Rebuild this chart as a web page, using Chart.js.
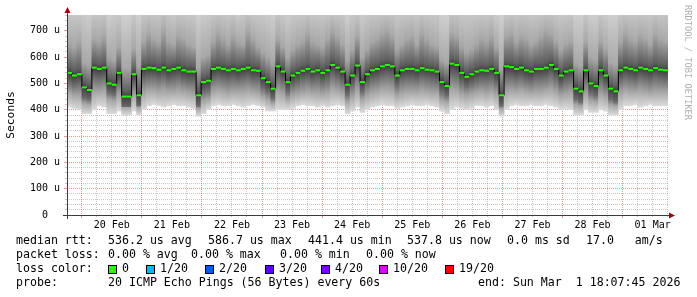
<!DOCTYPE html>
<html>
<head>
<meta charset="utf-8">
<script src="https://cdn.jsdelivr.net/npm/chart.js@4.4.1/dist/chart.umd.min.js"></script>
<style>
  html, body { margin: 0; padding: 0; background: #fff; }
  canvas { display: block; }
</style>
</head>
<body>
<canvas id="smoke" width="697" height="297"></canvas>
<script>
// time axis in hours since 19 Feb 00:00
const startHour = 18.129;   // 19 Feb 18:07:45
const endHour = 258.129;    // 01 Mar 18:07:45
const stepHours = 2;        // one sample every 2 hours

const dayLabels = ["20 Feb", "21 Feb", "22 Feb", "23 Feb", "24 Feb", "25 Feb", "26 Feb", "27 Feb", "28 Feb", "01 Mar"];
const rttTicks = [0, 100, 200, 300, 400, 500, 600, 700];

// median rtt (us) per sample
const medianRtt = [
  540, 530, 535, 485, 475, 560, 555, 560, 500, 495,
  540, 450, 450, 535, 455, 555, 560, 558, 552, 560,
  550, 555, 560, 550, 545, 545, 455, 505, 510, 555,
  560, 555, 550, 555, 550, 555, 560, 550, 548, 520,
  505, 480, 565, 545, 505, 530, 540, 548, 555, 545,
  550, 540, 550, 570, 560, 545, 495, 530, 568, 505,
  535, 550, 555, 565, 570, 565, 530, 550, 555, 555,
  550, 558, 552, 550, 545, 505, 490, 575, 570, 540,
  525, 535, 545, 550, 548, 555, 540, 455, 565, 562,
  555, 560, 550, 545, 555, 555, 560, 570, 555, 530,
  545, 550, 480, 470, 550, 500, 490, 550, 530, 480,
  470, 550, 560, 555, 550, 560, 555, 550, 558, 552,
  550
];

// smoke: spread of the 20 pings per sample (us)
const pingMin = [
  410, 405, 400, 385, 385, 400, 415, 410, 385, 385,
  395, 380, 380, 395, 380, 400, 415, 420, 415, 410,
  415, 420, 415, 415, 410, 405, 375, 385, 400, 415,
  420, 415, 415, 420, 415, 410, 415, 420, 415, 410,
  395, 395, 400, 400, 400, 405, 415, 420, 415, 415,
  410, 415, 410, 415, 420, 415, 385, 395, 410, 390,
  400, 410, 415, 420, 415, 415, 405, 410, 415, 420,
  415, 415, 420, 415, 410, 395, 385, 400, 410, 405,
  400, 405, 415, 415, 410, 415, 400, 375, 400, 415,
  420, 415, 415, 420, 415, 415, 420, 415, 410, 400,
  405, 400, 380, 380, 400, 390, 390, 400, 395, 380,
  380, 400, 415, 415, 420, 410, 415, 420, 415, 415,
  415
];
const pingMax = [
  800, 800, 790, 800, 780, 800, 800, 800, 770, 800,
  800, 760, 765, 800, 770, 800, 800, 800, 800, 800,
  800, 790, 800, 800, 800, 800, 765, 790, 800, 800,
  800, 800, 800, 800, 780, 800, 800, 800, 800, 800,
  790, 770, 800, 800, 780, 800, 800, 800, 800, 800,
  800, 800, 800, 800, 800, 800, 770, 800, 800, 780,
  800, 800, 800, 800, 800, 800, 800, 800, 800, 800,
  800, 800, 800, 800, 800, 765, 760, 800, 800, 800,
  800, 800, 800, 800, 800, 800, 780, 760, 790, 800,
  800, 800, 800, 800, 800, 800, 800, 800, 800, 800,
  800, 800, 770, 770, 800, 780, 770, 800, 790, 770,
  770, 800, 800, 800, 800, 800, 800, 800, 800, 800,
  800
];
const pingLow = [
  465, 455, 455, 425, 420, 470, 470, 475, 440, 435,
  460, 410, 410, 455, 410, 465, 475, 475, 470, 475,
  470, 470, 475, 470, 465, 460, 405, 435, 440, 470,
  475, 470, 465, 470, 470, 470, 475, 470, 465, 450,
  440, 425, 470, 460, 440, 455, 460, 465, 470, 465,
  465, 460, 465, 480, 475, 465, 430, 450, 475, 440,
  455, 465, 470, 480, 480, 475, 455, 465, 470, 470,
  470, 475, 470, 465, 465, 435, 430, 480, 475, 460,
  455, 460, 465, 470, 465, 470, 460, 405, 470, 475,
  470, 475, 470, 465, 470, 470, 475, 480, 470, 455,
  460, 465, 420, 415, 460, 435, 430, 460, 450, 420,
  415, 465, 475, 470, 470, 475, 470, 465, 470, 470,
  470
];
const pingHigh = [
  650, 640, 660, 580, 570, 670, 660, 680, 600, 590,
  640, 560, 560, 630, 570, 660, 690, 670, 660, 700,
  660, 650, 680, 670, 650, 640, 560, 600, 610, 660,
  690, 670, 650, 680, 660, 650, 700, 670, 640, 620,
  600, 580, 670, 640, 600, 630, 650, 660, 690, 660,
  650, 640, 670, 700, 680, 650, 590, 630, 680, 600,
  630, 660, 670, 690, 700, 680, 630, 650, 670, 680,
  650, 690, 670, 650, 640, 590, 580, 690, 680, 640,
  620, 630, 650, 670, 660, 680, 640, 560, 680, 690,
  660, 680, 670, 650, 660, 680, 700, 690, 660, 630,
  650, 660, 580, 570, 660, 600, 590, 660, 630, 580,
  570, 660, 690, 670, 660, 680, 670, 650, 690, 670,
  660
];
const coreLow = [
  505, 495, 500, 445, 440, 525, 520, 525, 465, 460,
  505, 410, 410, 500, 415, 520, 525, 525, 520, 525,
  515, 520, 525, 515, 510, 510, 415, 470, 475, 520,
  525, 520, 515, 520, 515, 520, 525, 515, 515, 485,
  470, 445, 525, 510, 470, 495, 505, 515, 520, 510,
  515, 505, 515, 535, 525, 510, 460, 495, 530, 470,
  500, 515, 520, 530, 535, 530, 495, 515, 520, 520,
  515, 525, 520, 515, 510, 470, 455, 535, 530, 505,
  490, 500, 510, 515, 515, 520, 505, 415, 525, 525,
  520, 525, 515, 510, 520, 520, 525, 535, 520, 495,
  510, 515, 440, 430, 515, 465, 455, 515, 495, 440,
  430, 515, 525, 520, 515, 525, 520, 515, 525, 520,
  515
];
const coreHigh = [
  560, 550, 555, 505, 495, 580, 575, 580, 520, 515,
  560, 470, 470, 555, 475, 575, 580, 578, 572, 580,
  570, 575, 580, 570, 565, 565, 475, 525, 530, 575,
  580, 575, 570, 575, 570, 575, 580, 570, 568, 540,
  525, 500, 585, 565, 525, 550, 560, 568, 575, 565,
  570, 560, 570, 590, 580, 565, 515, 550, 588, 525,
  555, 570, 575, 585, 590, 585, 550, 570, 575, 575,
  570, 578, 572, 570, 565, 525, 510, 595, 590, 560,
  545, 555, 565, 570, 568, 575, 560, 475, 585, 582,
  575, 580, 570, 565, 575, 575, 580, 590, 575, 550,
  565, 570, 500, 490, 570, 520, 510, 570, 550, 500,
  490, 570, 580, 575, 570, 580, 575, 570, 578, 572,
  570
];

const lossNames = ["0", "1/20", "2/20", "3/20", "4/20", "10/20", "19/20"];
const lossColors = ["#26ff00", "#00b8ff", "#0059ff", "#5e00ff", "#7e00ff", "#dd00ff", "#ff0000"];

// grey shade at each part of the ping spread
const smokeShades = [
    [pingMin, "#dadada"],
    [pingLow, "#a4a4a4"],
    [coreLow, "#6a6a6a"],
    [medianRtt, "#3e3e3e"],
    [coreHigh, "#5e5e5e"],
    [pingHigh, "#a8a8a8"],
    [pingMax, "#d0d0d0"]
];

// sample labels (time of each sample)
const sampleLabels = medianRtt.map((v, i) => (startHour + stepHours * (i + 0.5)).toFixed(2));

// grid positions: midnights, noons and the 6 hour marks between
const midnights = dayLabels.map((d, i) => 24 * (i + 1));
const noons = dayLabels.map((d, i) => 24 * (i + 1) + 12);
const sixHours = [];
for (let h = 24; h < endHour; h += 6) {
    if (h % 24 !== 0) sixHours.push(h);
}
const minorRtt = [];
for (let v = 20; v <= 760; v += 20) {
    if (v % 100 !== 0) minorRtt.push(v);
}

const MONO = "'DejaVu Sans Mono', monospace";
const majorGrid = "rgba(200, 30, 30, 0.45)";
const minorGrid = "rgba(130, 130, 130, 0.45)";

function setTicks(values) {
    return function (axis) {
        axis.ticks = values.map(v => ({ value: v }));
    };
}

// vertical gradient for one smoke column
function smokeFill(c) {
    const i = c.dataIndex;
    const chart = c.chart;
    if (i === undefined || !chart.chartArea || !chart.scales.y) return "#d0d0d0";
    const y = chart.scales.y;
    const lo = pingMin[i], hi = pingMax[i];
    const g = chart.ctx.createLinearGradient(0, y.getPixelForValue(lo), 0, y.getPixelForValue(hi));
    smokeShades.forEach(([values, colour]) => {
        const t = (values[i] - lo) / (hi - lo);
        g.addColorStop(Math.min(1, Math.max(0, t)), colour);
    });
    return g;
}

const legendRows = [
    { y: 241, items: [[16, "median rtt:"], [108, "536.2 us avg"], [208, "586.7 us max"], [308, "441.4 us min"], [407, "537.8 us now"], [507, "0.0 ms sd"], [586, "17.0   am/s"]] },
    { y: 255, items: [[16, "packet loss:"], [108, "0.00 % avg"], [191, "0.00 % max"], [280, "0.00 % min"], [366, "0.00 % now"]] },
    { y: 269, items: [[16, "loss color:"]] },
    { y: 283, items: [[16, "probe:"], [108, "20 ICMP Echo Pings (56 Bytes) every 60s"], [478, "end: Sun Mar  1 18:07:45 2026"]] }
];
const lossBoxX = [108, 146, 205, 265, 321, 379, 445];

// axes lines, arrows, legend and the side text
const rrdDecor = {
    id: "rrdDecor",
    afterDraw(chart) {
        const ctx = chart.ctx;
        const a = chart.chartArea;
        ctx.save();

        ctx.strokeStyle = "#3a3a3a";
        ctx.lineWidth = 1;
        ctx.beginPath();
        ctx.moveTo(a.left - 4, a.bottom + 0.5);
        ctx.lineTo(a.right + 2, a.bottom + 0.5);
        ctx.moveTo(a.left + 0.5, a.bottom + 4);
        ctx.lineTo(a.left + 0.5, a.top - 3);
        ctx.stroke();

        ctx.fillStyle = "#8b1010";
        ctx.beginPath();
        ctx.moveTo(a.left - 2.5, a.top - 2);
        ctx.lineTo(a.left + 3.5, a.top - 2);
        ctx.lineTo(a.left + 0.5, a.top - 8);
        ctx.closePath();
        ctx.fill();
        ctx.beginPath();
        ctx.moveTo(a.right + 1, a.bottom - 2.5);
        ctx.lineTo(a.right + 1, a.bottom + 3.5);
        ctx.lineTo(a.right + 7, a.bottom + 0.5);
        ctx.closePath();
        ctx.fill();

        ctx.fillStyle = "#000";
        ctx.font = "11.6px " + MONO;
        ctx.textBaseline = "middle";
        ctx.textAlign = "left";
        legendRows.forEach(row => {
            row.items.forEach(([x, text]) => ctx.fillText(text, x, row.y));
        });

        const boxY = legendRows[2].y;
        lossNames.forEach((name, i) => {
            const x = lossBoxX[i];
            ctx.fillStyle = lossColors[i];
            ctx.fillRect(x + 0.5, boxY - 3.5, 8, 8);
            ctx.strokeStyle = "#000";
            ctx.strokeRect(x + 0.5, boxY - 3.5, 8, 8);
            ctx.fillStyle = "#000";
            ctx.fillText(name, x + 14, boxY);
        });

        ctx.translate(687, 5);
        ctx.rotate(Math.PI / 2);
        ctx.fillStyle = "#b0b0b0";
        ctx.font = "8.7px " + MONO;
        ctx.fillText("RRDTOOL / TOBI OETIKER", 0, 0);
        ctx.restore();
    }
};

const timeAxis = {
    type: "linear", min: startHour, max: endHour, position: "bottom",
    offset: false
};

const ctx = document.getElementById("smoke").getContext("2d");
new Chart(ctx, {
    type: "bar",
    data: {
        labels: sampleLabels,
        datasets: [
            {
                type: "bar", data: pingMin.map((lo, i) => [lo, pingMax[i]]),
                backgroundColor: smokeFill, order: 3
            },
            {
                type: "line", data: medianRtt, stepped: "middle",
                borderColor: "#000", borderWidth: 1, pointRadius: 0, order: 2
            },
            {
                type: "line", data: medianRtt, showLine: false,
                pointStyle: "line", pointRadius: 2.5, pointBorderWidth: 2,
                pointBorderColor: lossColors[0], pointBackgroundColor: lossColors[0], order: 1
            }
        ]
    },
    options: {
        responsive: false,
        devicePixelRatio: 1,
        animation: false,
        events: [],
        layout: { padding: { top: 15, right: 29, bottom: 0, left: 0 } },
        datasets: {
            bar: { grouped: false, barPercentage: 1, categoryPercentage: 1, borderWidth: 0 }
        },
        plugins: { legend: { display: false }, tooltip: { enabled: false } },
        scales: {
            x: { type: "category", display: false, offset: true },
            y: {
                type: "linear", min: 0, max: 760, position: "left", weight: 1, z: 2,
                afterFit: s => { s.width = 67; },
                afterBuildTicks: setTicks(rttTicks),
                ticks: {
                    padding: 4, color: "#000", font: { family: MONO, size: 10 },
                    callback: v => v === 0 ? "0  " : v + " u"
                },
                grid: { color: majorGrid, tickLength: 3 },
                border: { display: false, dash: [1, 1] },
                title: {
                    display: true, text: "Seconds", color: "#000",
                    font: { family: MONO, size: 11.3 }, padding: { top: 4, bottom: 4 }
                }
            },
            yMinor: {
                type: "linear", min: 0, max: 760, position: "left", weight: 0, z: 1,
                afterFit: s => { s.width = 0; },
                afterBuildTicks: setTicks(minorRtt),
                ticks: { display: false },
                grid: { color: minorGrid, tickLength: 2 },
                border: { display: false, dash: [1, 1] }
            },
            xMinor: Object.assign({}, timeAxis, {
                weight: 0, z: 1,
                afterFit: s => { s.height = 0; },
                afterBuildTicks: setTicks(sixHours),
                ticks: { display: false },
                grid: { color: minorGrid, tickLength: 2, offset: false },
                border: { display: false, dash: [1, 1] }
            }),
            xMajor: Object.assign({}, timeAxis, {
                weight: 0, z: 2,
                afterFit: s => { s.height = 0; },
                afterBuildTicks: setTicks(midnights),
                ticks: { display: false },
                grid: { color: majorGrid, tickLength: 3, offset: false },
                border: { display: false, dash: [1, 1] }
            }),
            xLabels: Object.assign({}, timeAxis, {
                weight: 1,
                afterFit: s => { s.height = 82; },
                afterBuildTicks: setTicks(noons),
                ticks: {
                    autoSkip: false, maxRotation: 0, padding: 4, color: "#000",
                    font: { family: MONO, size: 10 },
                    callback: (v, i) => dayLabels[i]
                },
                grid: { display: false, drawTicks: false, offset: false },
                border: { display: false }
            })
        }
    },
    plugins: [rrdDecor]
});
</script>
</body>
</html>
